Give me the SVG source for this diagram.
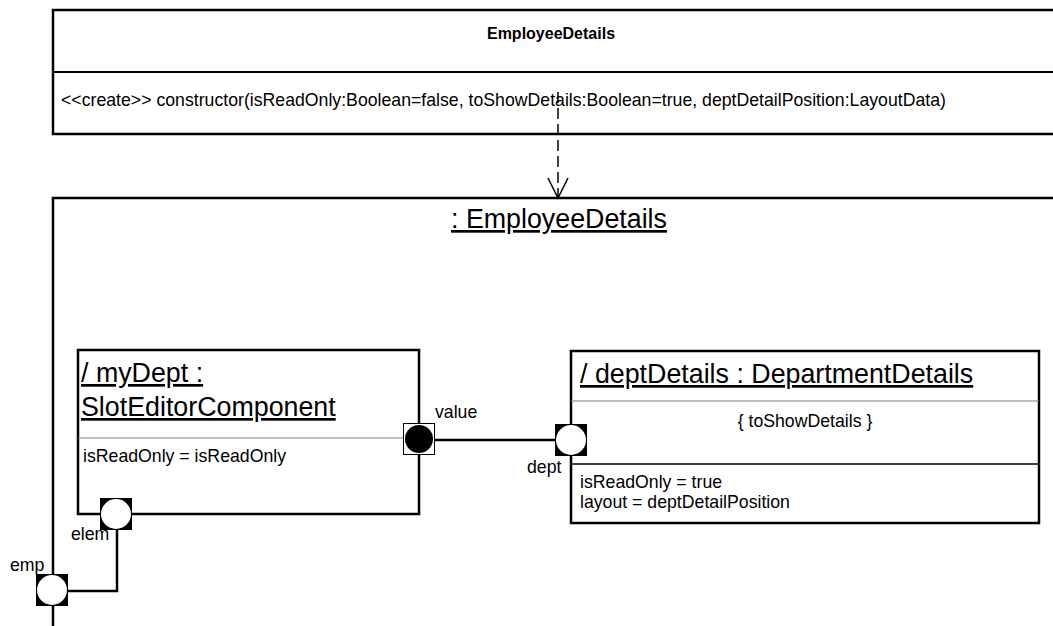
<svg xmlns="http://www.w3.org/2000/svg" width="1053" height="626" viewBox="0 0 1053 626">
  <defs>
    <style>
      .box { fill: #fff; stroke: #000; stroke-width: 2.5; }
      .sep { stroke: #000; stroke-width: 2; }
      .sep-thin { stroke: #808080; stroke-width: 1.2; }
      .sep-dark { stroke: #000; stroke-width: 1.5; }
      .t { font-family: "Liberation Sans", Arial, sans-serif; font-size: 17.7px; fill: #000; }
      .tb { font-family: "Liberation Sans", Arial, sans-serif; font-size: 16px; font-weight: bold; fill: #000; }
      .title { font-family: "Liberation Sans", Arial, sans-serif; font-size: 26.8px; fill: #000; text-decoration: underline; }
      .port-sq { fill: #000; }
      .port-c { fill: #fff; }
      .wire { fill: none; stroke: #000; stroke-width: 2.5; }
      .dep { fill: none; stroke: #000; stroke-width: 1.5; stroke-dasharray: 11 5; }
      .head { fill: none; stroke: #000; stroke-width: 1.5; }
    </style>
  </defs>

  <rect width="1053" height="626" fill="#fff"/>

  <!-- class box with the constructor -->
  <g id="EmployeeDetailsClass">
    <rect class="box" x="53" y="10" width="1020" height="124"/>
    <line class="sep" x1="53" y1="72" x2="1060" y2="72"/>
    <text class="tb" x="551" y="39" text-anchor="middle">EmployeeDetails</text>
    <text class="t" x="61" y="106">&lt;&lt;create&gt;&gt; constructor(isReadOnly:Boolean=false, toShowDetails:Boolean=true, deptDetailPosition:LayoutData)</text>
  </g>

  <!-- composite instance frame -->
  <g id="EmployeeDetailsInstance">
    <rect class="box" x="53" y="198" width="1020" height="450"/>
    <text class="title" x="559" y="228" text-anchor="middle">: EmployeeDetails</text>
  </g>

  <!-- inner part: myDept -->
  <g id="myDept">
    <rect class="box" x="78" y="350" width="341" height="164"/>
    <text class="title" x="81" y="382">/ myDept :</text>
    <text class="title" x="81" y="416">SlotEditorComponent</text>
    <line class="sep-thin" x1="78" y1="438" x2="419" y2="438"/>
    <text class="t" x="83" y="462">isReadOnly = isReadOnly</text>
  </g>

  <!-- inner part: deptDetails -->
  <g id="deptDetails">
    <rect class="box" x="571" y="351" width="468" height="172"/>
    <text class="title" x="580" y="383">/ deptDetails : DepartmentDetails</text>
    <line class="sep-thin" x1="571" y1="401" x2="1039" y2="401"/>
    <text class="t" x="805" y="427" text-anchor="middle">{ toShowDetails }</text>
    <line class="sep-dark" x1="571" y1="464" x2="1039" y2="464"/>
    <text class="t" x="580" y="488">isReadOnly = true</text>
    <text class="t" x="580" y="508">layout = deptDetailPosition</text>
  </g>

  <!-- connectors -->
  <g id="connectors">
    <line class="dep" x1="558" y1="92" x2="558" y2="196"/>
    <polyline class="head" points="548,178 558,198 568,178"/>
    <line class="wire" x1="435" y1="440" x2="555" y2="440"/>
    <polyline class="wire" points="117,530 117,591 68,591"/>
  </g>

  <!-- ports -->
  <g id="port-emp">
    <rect class="port-sq" x="36" y="574" width="32" height="32"/>
    <circle class="port-c" cx="52" cy="590" r="15"/>
    <text class="t" x="10" y="571">emp</text>
  </g>
  <g id="port-elem">
    <rect class="port-sq" x="100" y="498" width="32" height="32"/>
    <circle class="port-c" cx="116" cy="514" r="15"/>
    <text class="t" x="71" y="540">elem</text>
  </g>
  <g id="port-value">
    <rect x="403.5" y="423.5" width="31" height="31" fill="#fff" stroke="#000" stroke-width="1"/>
    <circle cx="419" cy="439" r="14" fill="#000"/>
    <text class="t" x="435" y="418">value</text>
  </g>
  <g id="port-dept">
    <rect class="port-sq" x="555" y="424" width="32" height="32"/>
    <circle class="port-c" cx="571" cy="440" r="15"/>
    <text class="t" x="527" y="473">dept</text>
  </g>
</svg>
